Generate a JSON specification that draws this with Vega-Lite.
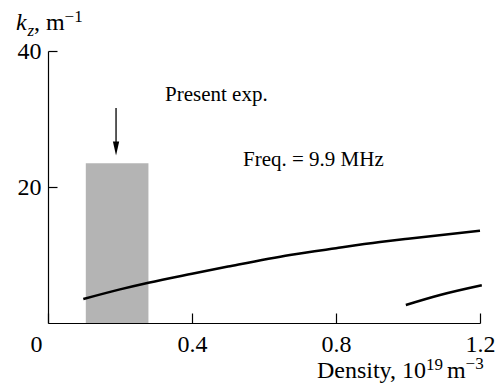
{
  "$schema": "https://vega.github.io/schema/vega-lite/v6.json",
  "width": 432,
  "height": 272,
  "autosize": {"type": "none"},
  "padding": {"left": 48, "top": 51, "right": 22, "bottom": 65},
  "background": "white",
  "config": {
    "view": {"stroke": null},
    "font": "Liberation Serif",
    "axis": {"grid": false, "domainColor": "black", "tickColor": "black", "labelColor": "black", "titleColor": "black", "labelFont": "Liberation Serif", "titleFont": "Liberation Serif", "labelFontSize": 24, "titleFontSize": 24, "titleFontWeight": "normal", "domainWidth": 1.2, "tickWidth": 1.2}
  },
  "layer": [
    {
      "data": {"values": [{"x": 0.105, "x2": 0.279, "y": 0, "y2": 23.5}]},
      "mark": {"type": "rect", "color": "#b4b4b4"},
      "encoding": {
        "x": {"field": "x", "type": "quantitative", "scale": {"domain": [0, 1.2], "nice": false, "zero": false},
          "axis": {"values": [0, 0.4, 0.8, 1.2], "format": "~g", "tickSize": -10, "labelPadding": 19, "labelFlush": false,
            "labelOffset": {"condition": {"test": "datum.value == 0", "value": -12}, "value": 0},
            "title": null}},
        "x2": {"field": "x2"},
        "y": {"field": "y", "type": "quantitative", "scale": {"domain": [0, 40], "nice": false},
          "axis": {"values": [20, 40], "tickSize": -9, "labelPadding": 16, "title": null}},
        "y2": {"field": "y2"}
      }
    },
    {
      "data": {"values": [
        {"series": "a", "x": 0.098, "y": 3.53},
        {"series": "a", "x": 0.2, "y": 4.95},
        {"series": "a", "x": 0.279, "y": 5.93},
        {"series": "a", "x": 0.4, "y": 7.25},
        {"series": "a", "x": 0.5, "y": 8.3},
        {"series": "a", "x": 0.672, "y": 10.0},
        {"series": "a", "x": 0.8, "y": 11.0},
        {"series": "a", "x": 0.922, "y": 11.9},
        {"series": "a", "x": 1.0, "y": 12.4},
        {"series": "a", "x": 1.2, "y": 13.57},
        {"series": "b", "x": 0.994, "y": 2.65},
        {"series": "b", "x": 1.089, "y": 4.12},
        {"series": "b", "x": 1.205, "y": 5.55}
      ]},
      "mark": {"type": "line", "color": "black", "strokeWidth": 2.5, "interpolate": "monotone", "clip": false},
      "encoding": {
        "x": {"field": "x", "type": "quantitative"},
        "y": {"field": "y", "type": "quantitative"},
        "detail": {"field": "series"}
      }
    },
    {
      "data": {"values": [{"x": 0.189, "y": 31.6, "y2": 26}]},
      "mark": {"type": "rule", "color": "black", "strokeWidth": 1.3},
      "encoding": {
        "x": {"field": "x", "type": "quantitative"},
        "y": {"field": "y", "type": "quantitative"},
        "y2": {"field": "y2"}
      }
    },
    {
      "data": {"values": [{"x": 0.189, "y": 25.65}]},
      "mark": {"type": "point", "filled": true, "color": "black", "opacity": 1, "size": 196, "shape": "M-0.45,-1L0.45,-1L0,1Z"},
      "encoding": {
        "x": {"field": "x", "type": "quantitative"},
        "y": {"field": "y", "type": "quantitative"}
      }
    },
    {
      "data": {"values": [
        {"x": 0.325, "y": 32.65, "label": "Present exp."},
        {"x": 0.5417, "y": 23.09, "label": "Freq. = 9.9 MHz"}
      ]},
      "mark": {"type": "text", "align": "left", "baseline": "alphabetic", "fontSize": 21, "color": "black", "font": "Liberation Serif"},
      "encoding": {
        "x": {"field": "x", "type": "quantitative"},
        "y": {"field": "y", "type": "quantitative"},
        "text": {"field": "label"}
      }
    },
    {
      "data": {"values": [
        {"x": -0.0889, "y": 43.09, "label": "k"}
      ]},
      "mark": {"type": "text", "align": "left", "baseline": "alphabetic", "fontSize": 24, "fontStyle": "italic", "color": "black", "font": "Liberation Serif", "clip": false},
      "encoding": {
        "x": {"field": "x", "type": "quantitative"},
        "y": {"field": "y", "type": "quantitative"},
        "text": {"field": "label"}
      }
    },
    {
      "data": {"values": [{"x": -0.057, "y": 42.2, "label": "z"}]},
      "mark": {"type": "text", "align": "left", "baseline": "alphabetic", "fontSize": 17, "fontStyle": "italic", "color": "black", "font": "Liberation Serif", "clip": false},
      "encoding": {
        "x": {"field": "x", "type": "quantitative"},
        "y": {"field": "y", "type": "quantitative"},
        "text": {"field": "label"}
      }
    },
    {
      "data": {"values": [
        {"x": -0.0389, "y": 43.09, "label": ", m"},
        {"x": 1.1083, "y": -8.09, "label": "m"}
      ]},
      "mark": {"type": "text", "align": "left", "baseline": "alphabetic", "fontSize": 24, "color": "black", "font": "Liberation Serif", "clip": false},
      "encoding": {
        "x": {"field": "x", "type": "quantitative"},
        "y": {"field": "y", "type": "quantitative"},
        "text": {"field": "label"}
      }
    },
    {
      "data": {"values": [
        {"x": 1.05, "y": -8.09, "label": "Density, 10"}
      ]},
      "mark": {"type": "text", "align": "right", "baseline": "alphabetic", "fontSize": 24, "color": "black", "font": "Liberation Serif", "clip": false},
      "encoding": {
        "x": {"field": "x", "type": "quantitative"},
        "y": {"field": "y", "type": "quantitative"},
        "text": {"field": "label"}
      }
    },
    {
      "data": {"values": [
        {"x": 0.046, "y": 44.26, "label": "−1"},
        {"x": 1.05, "y": -6.91, "label": "19"},
        {"x": 1.16, "y": -6.76, "label": "−3"}
      ]},
      "mark": {"type": "text", "align": "left", "baseline": "alphabetic", "fontSize": 17, "color": "black", "font": "Liberation Serif", "clip": false},
      "encoding": {
        "x": {"field": "x", "type": "quantitative"},
        "y": {"field": "y", "type": "quantitative"},
        "text": {"field": "label"}
      }
    }
  ]
}
